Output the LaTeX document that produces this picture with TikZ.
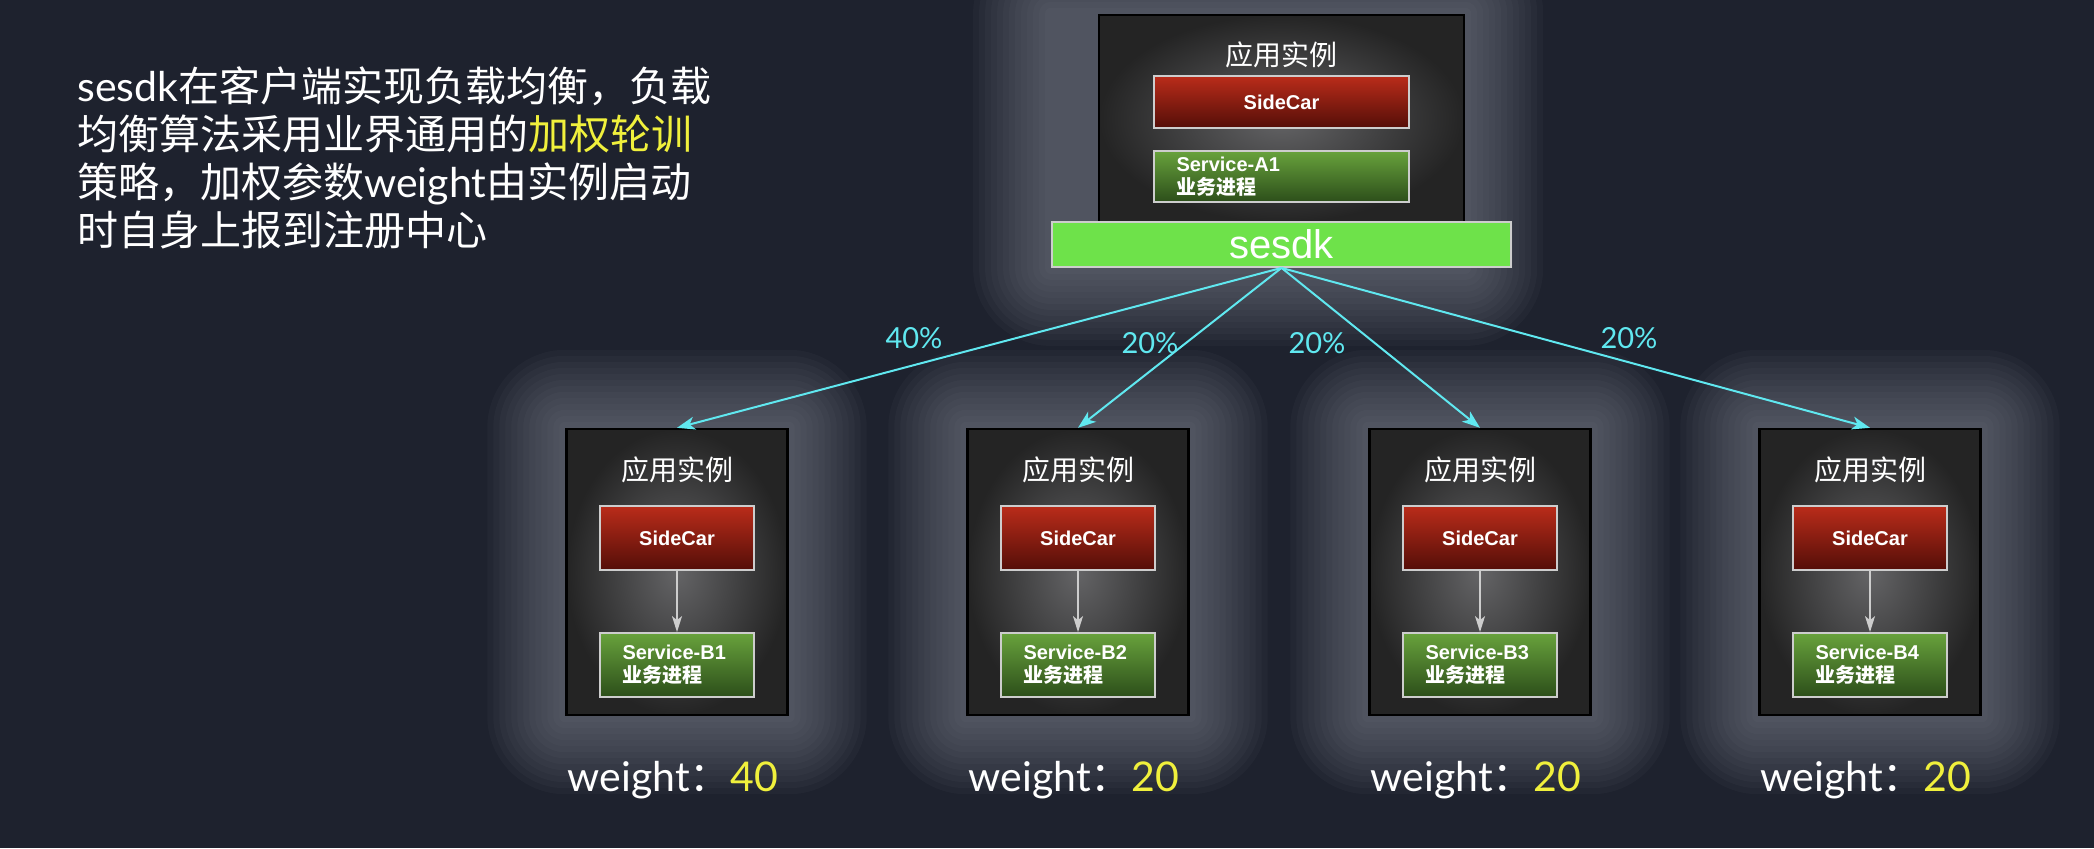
\documentclass[tikz,border=0pt]{standalone}
\usepackage{fontspec}
\setmainfont{Lato}
\newfontfamily\cjk{Noto Sans CJK SC}
\newfontfamily\arial{Liberation Sans}
\usetikzlibrary{arrows.meta,backgrounds}
\definecolor{bg}{RGB}{30,34,46}
\definecolor{glowcol}{RGB}{135,140,150}
\definecolor{boxin}{RGB}{100,100,102}
\definecolor{boxout}{RGB}{36,36,36}
\definecolor{redtop}{RGB}{186,44,26}
\definecolor{redbot}{RGB}{84,14,8}
\definecolor{greentop}{RGB}{104,162,60}
\definecolor{greenbot}{RGB}{44,78,26}
\definecolor{sdkgreen}{RGB}{110,226,74}
\definecolor{cyanline}{RGB}{96,232,240}
\definecolor{hilite}{RGB}{240,240,60}
\definecolor{rim}{RGB}{205,205,205}

\begin{document}
\begin{tikzpicture}[x=0.5pt,y=-0.5pt,
    appbox/.style={draw=black, line width=1.2pt, inner sep=0,
      minimum width=110.5pt, minimum height=143pt,
      inner color=boxin, outer color=boxout},
    halo/.style={glowcol, fill opacity=0.055},
    boxtitle/.style={text=white, font=\cjk\fontsize{14}{16}\selectfont},
    sidecar/.style={draw=rim, line width=0.9pt, top color=redtop, bottom color=redbot,
      minimum width=77pt, minimum height=32pt, inner sep=0, text=white,
      font=\arial\bfseries\fontsize{10}{12}\selectfont},
    service/.style={draw=rim, line width=0.9pt, top color=greentop, bottom color=greenbot,
      minimum width=77pt, minimum height=32pt, inner sep=0},
    svctext/.style={text=white, align=left, inner sep=0, anchor=west,
      font=\arial\bfseries\fontsize{10}{11.5}\selectfont},
    pct/.style={text=cyanline, font=\fontsize{14.5}{16}\selectfont},
    weightlbl/.style={text=white, font=\fontsize{20.5}{24}\selectfont},
    flow/.style={cyanline, line width=1pt, -{Stealth[length=9pt,width=6.5pt,inset=2.5pt]}},
    callarrow/.style={rim, line width=0.8pt, -{Stealth[length=8pt,width=5pt,inset=2pt]}}]
  \useasboundingbox (0,0) rectangle (2094,848);

  \node[text=white, align=left, anchor=north west, inner sep=0,
    font=\fontsize{20.5}{24}\selectfont] (intro) at (77,66)
    {sesdk{\cjk 在客户端实现负载均衡，负载}\\
     {\cjk 均衡算法采用业界通用的\textcolor{hilite}{加权轮训}}\\
     {\cjk 策略，加权参数}weight{\cjk 由实例启动}\\
     {\cjk 时自身上报到注册中心}};

  % caller
  \node[appbox, minimum width=182.5pt, minimum height=103.5pt] (a) at (1281.5,118.5) {};
  \node[boxtitle] (at) at (1281.5,55) {应用实例};
  \node[sidecar, minimum width=127.5pt, minimum height=26pt] (ac) at (1281.5,102) {SideCar};
  \node[service, minimum width=127.5pt, minimum height=25.5pt] (as) at (1281.5,176.5) {};
  \node[svctext] (ast) at ([xshift=11.5pt]as.west) {Service-A1\\{\cjk 业务进程}};
  \node[draw=rim, line width=0.9pt, fill=sdkgreen, minimum width=229.5pt, minimum height=22.5pt,
    inner sep=0, text=white, font=\arial\fontsize{20}{22}\selectfont] (sdk) at (1281.5,244.5) {sesdk};

  % instance B1
  \node[appbox] (b1) at (677,572) {};
  \node[boxtitle] (b1t) at (677,470) {应用实例};
  \node[sidecar] (b1c) at (677,538) {SideCar};
  \node[service] (b1s) at (677,665) {};
  \node[svctext] (b1st) at ([xshift=11.5pt]b1s.west) {Service-B1\\{\cjk 业务进程}};
  \draw[callarrow] (b1c) -- (b1s);
  \node[weightlbl] (b1w) at (673,780) {weight{\cjk ：}\textcolor{hilite}{40}};

  % instance B2
  \node[appbox] (b2) at (1078,572) {};
  \node[boxtitle] (b2t) at (1078,470) {应用实例};
  \node[sidecar] (b2c) at (1078,538) {SideCar};
  \node[service] (b2s) at (1078,665) {};
  \node[svctext] (b2st) at ([xshift=11.5pt]b2s.west) {Service-B2\\{\cjk 业务进程}};
  \draw[callarrow] (b2c) -- (b2s);
  \node[weightlbl] (b2w) at (1074,780) {weight{\cjk ：}\textcolor{hilite}{20}};

  % instance B3
  \node[appbox] (b3) at (1480,572) {};
  \node[boxtitle] (b3t) at (1480,470) {应用实例};
  \node[sidecar] (b3c) at (1480,538) {SideCar};
  \node[service] (b3s) at (1480,665) {};
  \node[svctext] (b3st) at ([xshift=11.5pt]b3s.west) {Service-B3\\{\cjk 业务进程}};
  \draw[callarrow] (b3c) -- (b3s);
  \node[weightlbl] (b3w) at (1476,780) {weight{\cjk ：}\textcolor{hilite}{20}};

  % instance B4
  \node[appbox] (b4) at (1870,572) {};
  \node[boxtitle] (b4t) at (1870,470) {应用实例};
  \node[sidecar] (b4c) at (1870,538) {SideCar};
  \node[service] (b4s) at (1870,665) {};
  \node[svctext] (b4st) at ([xshift=11.5pt]b4s.west) {Service-B4\\{\cjk 业务进程}};
  \draw[callarrow] (b4c) -- (b4s);
  \node[weightlbl] (b4w) at (1866,780) {weight{\cjk ：}\textcolor{hilite}{20}};

  % weighted round robin
  \draw[flow] (sdk.south) -- (b1.north);
  \draw[flow] (sdk.south) -- (b2.north);
  \draw[flow] (sdk.south) -- (b3.north);
  \draw[flow] (sdk.south) -- (b4.north);
  \node[pct] (p1) at (914,338) {40\%};
  \node[pct] (p2) at (1150,343) {20\%};
  \node[pct] (p3) at (1317,343) {20\%};
  \node[pct] (p4) at (1629,338) {20\%};

  % backdrop and soft glow round the boxes
  \begin{scope}[on background layer]
    \fill[bg] (0,0) rectangle (2094,848);
    \foreach \r [evaluate=\r as \rc using \r/2] in {6,12,...,78} {
      \fill[halo, rounded corners=\rc pt] ([shift={(-\r,\r)}]sdk.south west) rectangle ([shift={(\r,-\r)}]a.north east);
      \fill[halo, rounded corners=\rc pt] ([shift={(-\r,\r)}]b1.south west) rectangle ([shift={(\r,-\r)}]b1.north east);
      \fill[halo, rounded corners=\rc pt] ([shift={(-\r,\r)}]b2.south west) rectangle ([shift={(\r,-\r)}]b2.north east);
      \fill[halo, rounded corners=\rc pt] ([shift={(-\r,\r)}]b3.south west) rectangle ([shift={(\r,-\r)}]b3.north east);
      \fill[halo, rounded corners=\rc pt] ([shift={(-\r,\r)}]b4.south west) rectangle ([shift={(\r,-\r)}]b4.north east);
    }
  \end{scope}
\end{tikzpicture}
\end{document}
